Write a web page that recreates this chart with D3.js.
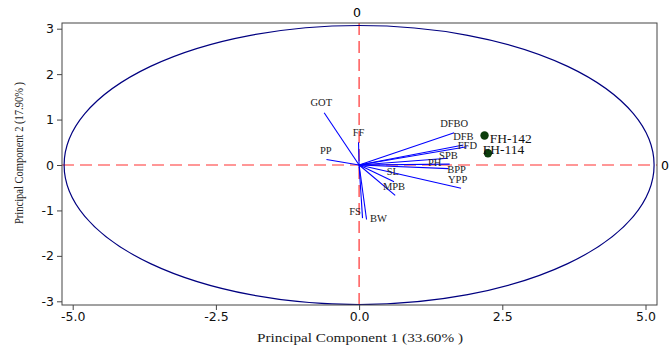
<!DOCTYPE html>
<html>
<head>
<meta charset="utf-8">
<script src="https://cdn.jsdelivr.net/npm/d3@7"></script>
<style>
  body { margin: 0; background: #fff; }
</style>
</head>
<body>
<div id="chart"></div>
<script>
// loading vectors (PC1, PC2)
const variables = ["GOT", "FF", "PP", "DFBO", "DFB", "FFD", "SPB", "PH", "BPP", "YPP", "SL", "MPB", "FS", "BW"];
const pc1 = [-0.61, -0.01, -0.57, 1.66, 1.82, 1.88, 1.55, 1.58, 1.56, 1.78, 0.61, 0.63, 0.06, 0.13];
const pc2 = [1.15, 0.50, 0.12, 0.71, 0.44, 0.40, 0.15, 0.02, -0.08, -0.51, -0.37, -0.67, -1.17, -1.20];
// where each variable name sits
const labelPc1 = [-0.66, -0.01, -0.58, 1.66, 1.82, 1.89, 1.56, 1.32, 1.70, 1.72, 0.59, 0.61, -0.07, 0.34];
const labelPc2 = [1.37, 0.71, 0.33, 0.92, 0.63, 0.42, 0.22, 0.06, -0.10, -0.31, -0.15, -0.48, -1.02, -1.17];

// genotype scores
const genotypes = ["FH-142", "FH-114"];
const genoPc1 = [2.19, 2.25];
const genoPc2 = [0.65, 0.26];
const genoLabelPc1 = [2.28, 2.16];
const genoLabelPc2 = [0.59, 0.35];

const xTicks = [-5, -2.5, 0, 2.5, 5];
const yTicks = [-3, -2, -1, 0, 1, 2, 3];
const ellipseRadius = [5.15, 3.07];

const width = 670;
const height = 349;
const plotLeft = 62, plotRight = 657, plotTop = 23, plotBottom = 305;

const x = d3.scaleLinear().domain([-5, 5]).range([72.7, 645.5]);
const y = d3.scaleLinear().domain([-3, 3]).range([301.3, 28.7]);

const svg = d3.select("#chart")
    .append("svg")
    .attr("width", width)
    .attr("height", height);

svg.append("defs").append("clipPath").attr("id", "plot")
    .append("rect")
    .attr("x", plotLeft - 3).attr("y", plotTop)
    .attr("width", plotRight - plotLeft + 3).attr("height", plotBottom - plotTop);

const plot = svg.append("g").attr("clip-path", "url(#plot)");

// reference lines
plot.append("line")
    .attr("x1", plotLeft).attr("x2", plotRight)
    .attr("y1", y(0)).attr("y2", y(0))
    .attr("stroke", "#ff3030").attr("stroke-width", 1.2)
    .attr("stroke-dasharray", "12,6");
plot.append("line")
    .attr("x1", x(0)).attr("x2", x(0))
    .attr("y1", plotTop).attr("y2", plotBottom)
    .attr("stroke", "#ff3030").attr("stroke-width", 1.2)
    .attr("stroke-dasharray", "12,6");

// ellipse
plot.append("ellipse")
    .attr("cx", x(0)).attr("cy", y(0))
    .attr("rx", x(ellipseRadius[0]) - x(0))
    .attr("ry", y(0) - y(ellipseRadius[1]))
    .attr("fill", "none")
    .attr("stroke", "#000080")
    .attr("stroke-width", 1.2);

// loading vectors
plot.selectAll("line.vec")
    .data(variables)
    .enter()
    .append("line")
    .attr("class", "vec")
    .attr("x1", x(0)).attr("y1", y(0))
    .attr("x2", (d, i) => x(pc1[i]))
    .attr("y2", (d, i) => y(pc2[i]))
    .attr("stroke", "#0000ff")
    .attr("stroke-width", 1.1);

plot.selectAll("text.var")
    .data(variables)
    .enter()
    .append("text")
    .attr("class", "var")
    .attr("x", (d, i) => x(labelPc1[i]))
    .attr("y", (d, i) => y(labelPc2[i]))
    .attr("text-anchor", "middle")
    .attr("dominant-baseline", "central")
    .attr("font-family", "Liberation Serif, Times New Roman, serif")
    .attr("font-size", 10.5)
    .attr("fill", "#222")
    .text(d => d);

// genotypes
plot.selectAll("circle")
    .data(genotypes)
    .enter()
    .append("circle")
    .attr("cx", (d, i) => x(genoPc1[i]))
    .attr("cy", (d, i) => y(genoPc2[i]))
    .attr("r", 4.2)
    .attr("fill", "#0b3d0b");

plot.selectAll("text.geno")
    .data(genotypes)
    .enter()
    .append("text")
    .attr("class", "geno")
    .attr("x", (d, i) => x(genoLabelPc1[i]))
    .attr("y", (d, i) => y(genoLabelPc2[i]))
    .attr("dominant-baseline", "central")
    .attr("font-family", "Liberation Serif, Times New Roman, serif")
    .attr("font-size", 13.5)
    .attr("fill", "#111")
    .text(d => d);

// frame
svg.append("rect")
    .attr("x", plotLeft).attr("y", plotTop)
    .attr("width", plotRight - plotLeft).attr("height", plotBottom - plotTop)
    .attr("fill", "none")
    .attr("stroke", "#444")
    .attr("stroke-width", 1);

const tickFont = "DejaVu Sans, Verdana, sans-serif";

const yAxis = svg.append("g")
    .attr("transform", `translate(${plotLeft},0)`)
    .call(d3.axisLeft(y).tickValues(yTicks).tickSize(5).tickPadding(3)
        .tickFormat(d => String(d)));
yAxis.select(".domain").remove();

const xAxis = svg.append("g")
    .attr("transform", `translate(0,${plotBottom})`)
    .call(d3.axisBottom(x).tickValues(xTicks).tickSize(5).tickPadding(2)
        .tickFormat(d => d.toFixed(1)));
xAxis.select(".domain").remove();

svg.selectAll(".tick text")
    .attr("font-family", tickFont)
    .attr("font-size", 12.5)
    .attr("fill", "#111");
svg.selectAll(".tick line").attr("stroke", "#444");

// secondary axis zero labels
svg.append("text")
    .attr("x", x(0) - 2).attr("y", 12)
    .attr("text-anchor", "middle")
    .attr("dominant-baseline", "central")
    .attr("font-family", tickFont)
    .attr("font-size", 12.5)
    .text("0");
svg.append("text")
    .attr("x", plotRight + 4).attr("y", y(0))
    .attr("dominant-baseline", "central")
    .attr("font-family", tickFont)
    .attr("font-size", 12.5)
    .text("0");

// axis titles
svg.append("text")
    .attr("x", 360).attr("y", 337)
    .attr("text-anchor", "middle")
    .attr("dominant-baseline", "central")
    .attr("font-family", "Liberation Serif, Times New Roman, serif")
    .attr("font-size", 13.5)
    .attr("textLength", 206)
    .attr("lengthAdjust", "spacingAndGlyphs")
    .attr("fill", "#222")
    .text("Principal Component 1 (33.60% )");

svg.append("text")
    .attr("transform", "translate(19,153) rotate(-90)")
    .attr("text-anchor", "middle")
    .attr("dominant-baseline", "central")
    .attr("font-family", "Liberation Serif, Times New Roman, serif")
    .attr("font-size", 12)
    .attr("textLength", 142)
    .attr("lengthAdjust", "spacingAndGlyphs")
    .attr("fill", "#222")
    .text("Principal Component 2 (17.90% )");
</script>
</body>
</html>
